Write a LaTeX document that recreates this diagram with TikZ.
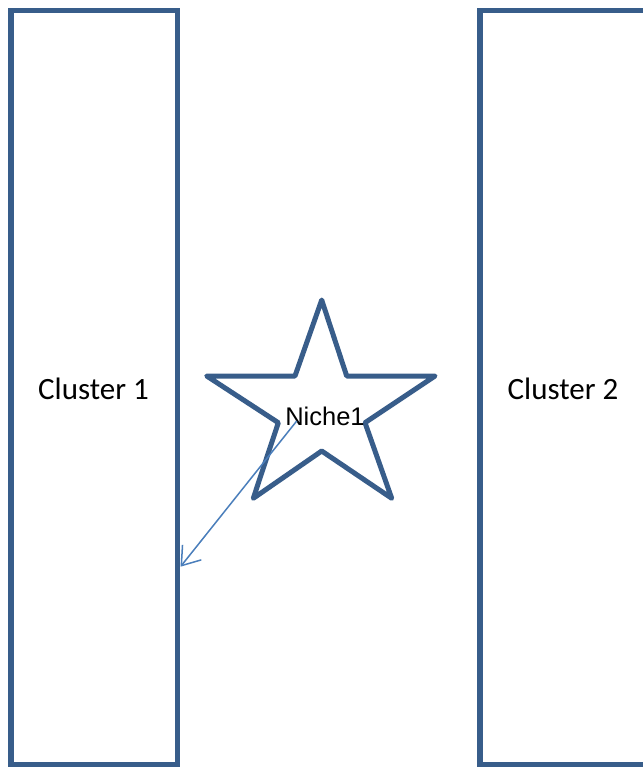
\documentclass[tikz,border=0pt]{standalone}
\usepackage{fontspec}
\setmainfont{Carlito}
\newfontfamily\arialfont{Liberation Sans}
\usetikzlibrary{arrows.meta}
\definecolor{edgeblue}{HTML}{385D8A}
\definecolor{linkblue}{HTML}{4A7EBB}
\begin{document}
\begin{tikzpicture}[x=1pt,y=-1pt,
  clusterbox/.style={draw=edgeblue,line width=5.5pt,fill=white},
  clusterlabel/.style={font=\fontsize{31}{37}\selectfont,inner sep=0pt},
  starline/.style={draw=edgeblue,line width=5pt,line join=round,fill=white},
  nichelabel/.style={font=\arialfont\fontsize{25.5}{30}\selectfont,inner sep=0pt},
  link/.style={draw=linkblue,line width=1.5pt,-{Straight Barb[length=17pt,width=24pt,line width=1.5pt]}}]
  \useasboundingbox (0,0) rectangle (642,767);

  % two clusters, the second running past the right edge
  \draw[clusterbox] (11,10.5) rectangle (177.5,765);
  \draw[clusterbox] (480,10.5) rectangle (647,765);
  \node[clusterlabel] (c1) at (93.5,389) {Cluster 1};
  \node[clusterlabel] (c2) at (563,389) {Cluster 2};

  % five-pointed star for the niche
  \draw[starline] (321.7,300) -- (346.7,376) -- (435,376) -- (365,422.7)
    -- (391.7,498.3) -- (321.7,451) -- (253.3,498.3) -- (278.3,422.7)
    -- (206.7,376) -- (295,376) -- cycle;
  \node[nichelabel] (n1) at (325,416) {Niche1};

  % link from the niche to the first cluster
  \coordinate (ls) at (296.7,421);
  \coordinate (le) at (180.5,566.7);
  \draw[link] (ls) -- (le);
\end{tikzpicture}
\end{document}
